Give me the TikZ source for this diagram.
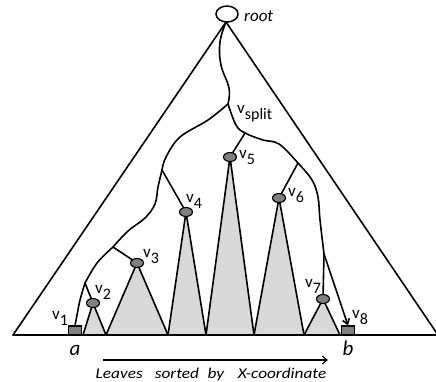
\documentclass[tikz,border=0pt]{standalone}
\usepackage{fontspec}
\setmainfont{Carlito}
\usetikzlibrary{arrows.meta,shapes.geometric}
\newcommand\vl[1]{v\raisebox{-6pt}{\fontsize{16pt}{16pt}\selectfont #1}}
\begin{document}
\begin{tikzpicture}[x=1pt,y=-1pt,
  edge/.style={line width=1.6pt, line cap=round, line join=round},
  tri/.style={fill=black!15, draw=black, line width=1.6pt, line join=round},
  inode/.style={ellipse, draw, line width=1.1pt, fill=black!50, minimum width=13pt, minimum height=9pt, inner sep=0pt},
  leaf/.style={rectangle, draw, line width=1.1pt, fill=black!50, minimum width=13pt, minimum height=9pt, inner sep=0pt},
  lab/.style={font=\fontsize{17pt}{17pt}\selectfont, inner sep=0pt, anchor=base west}]
\useasboundingbox (0,0) rectangle (436,381);
% positions
\coordinate (p2) at (93,303);
\coordinate (p3) at (137,263);
\coordinate (p4) at (186,212);
\coordinate (p5) at (230,157);
\coordinate (p6) at (279,198);
\coordinate (p7) at (323,299);
% subtree triangles
\draw[tri] (p2) -- (106,335) -- (83,335) -- cycle;
\draw[tri] (p3) -- (168,335) -- (106,335) -- cycle;
\draw[tri] (p4) -- (206,335) -- (168,335) -- cycle;
\draw[tri] (p5) -- (254,335) -- (206,335) -- cycle;
\draw[tri] (p6) -- (304,335) -- (254,335) -- cycle;
\draw[tri] (p7) -- (340,335) -- (304,335) -- cycle;
% big triangle
\node[ellipse, draw, line width=1.5pt, fill=white, minimum width=22pt, minimum height=16pt, inner sep=0pt] (root) at (227,14) {};
\coordinate (apex) at (226,22);
\draw[edge] (13,335) -- (apex) -- (438,335);
\draw[edge] (13,335) -- (438,335);
% nodes
\node[inode] (v2) at (p2) {};
\node[inode] (v3) at (p3) {};
\node[inode] (v4) at (p4) {};
\node[inode] (v5) at (p5) {};
\node[inode] (v6) at (p6) {};
\node[inode] (v7) at (p7) {};
\node[leaf] (v1) at (75,330.5) {};
\node[leaf] (v8) at (348,330.5) {};
% split points
\coordinate (vs) at (228,104);
\coordinate (s4) at (162,170);
\coordinate (s3) at (113,247);
\coordinate (s2) at (85,283);
\coordinate (s5) at (245,133);
\coordinate (s6) at (298,163);
\coordinate (s7) at (324,254);
% paths
\draw[edge] plot[smooth, tension=0.7] coordinates {(apex) (220,42) (221,65) (229,88) (vs)};
\draw[edge] plot[smooth, tension=0.6] coordinates {(vs) (208,120) (180,137) (166,157) (s4)};
\draw[edge] (s4) -- (v4);
\draw[edge] plot[smooth, tension=0.6] coordinates {(s4) (158,187) (155,204) (145,218) (128,231) (s3)};
\draw[edge] (s3) -- (v3);
\draw[edge] plot[smooth, tension=0.6] coordinates {(s3) (97,263) (s2)};
\draw[edge] (s2) -- (v2);
\draw[edge] plot[smooth, tension=0.6] coordinates {(s2) (80,300) (77,315) (v1.north)};
\draw[edge] plot[smooth, tension=0.6] coordinates {(vs) (236,125) (s5) (263,140) (279,144) (s6) (312,180) (318,197) (320,220) (s7)};
\draw[edge] (s5) -- (v5);
\draw[edge] (s6) -- (v6);
\draw[edge] (s7) -- (v7);
\draw[edge, -{Straight Barb[length=5pt,width=7pt]}] (s7) -- (v8.north);
% labels
\node[lab, font=\fontsize{17pt}{17pt}\selectfont\itshape] (troot) at (244,21) {root};
\node[lab] (tvs) at (237,113) {\vl{split}};
\node[lab] (t1) at (52,319) {\vl{1}};
\node[lab] (t2) at (95,293) {\vl{2}};
\node[lab] (t3) at (143,257) {\vl{3}};
\node[lab] (t4) at (186,202) {\vl{4}};
\node[lab] (t5) at (239,158) {\vl{5}};
\node[lab] (t6) at (288,196) {\vl{6}};
\node[lab] (t7) at (305,287) {\vl{7}};
\node[lab] (t8) at (352,318) {\vl{8}};
\node[font=\fontsize{21pt}{21pt}\selectfont\itshape, inner sep=0pt] (ta) at (75,350) {a};
\node[font=\fontsize{21pt}{21pt}\selectfont\itshape, inner sep=0pt] (tb) at (348,348) {b};
\coordinate (al) at (103,360);
\coordinate (ar) at (328,360);
\draw[line width=1.1pt, -{Straight Barb[length=5pt,width=8pt]}] (al) -- (ar);
\node[font=\fontsize{15pt}{15pt}\selectfont\itshape, inner sep=0pt, anchor=base] (tl) at (211,378) {\scalebox{1.15}[1]{Leaves\hspace{0.7em}sorted\hspace{0.5em}by\hspace{0.8em}X-coordinate}};
\end{tikzpicture}
\end{document}
